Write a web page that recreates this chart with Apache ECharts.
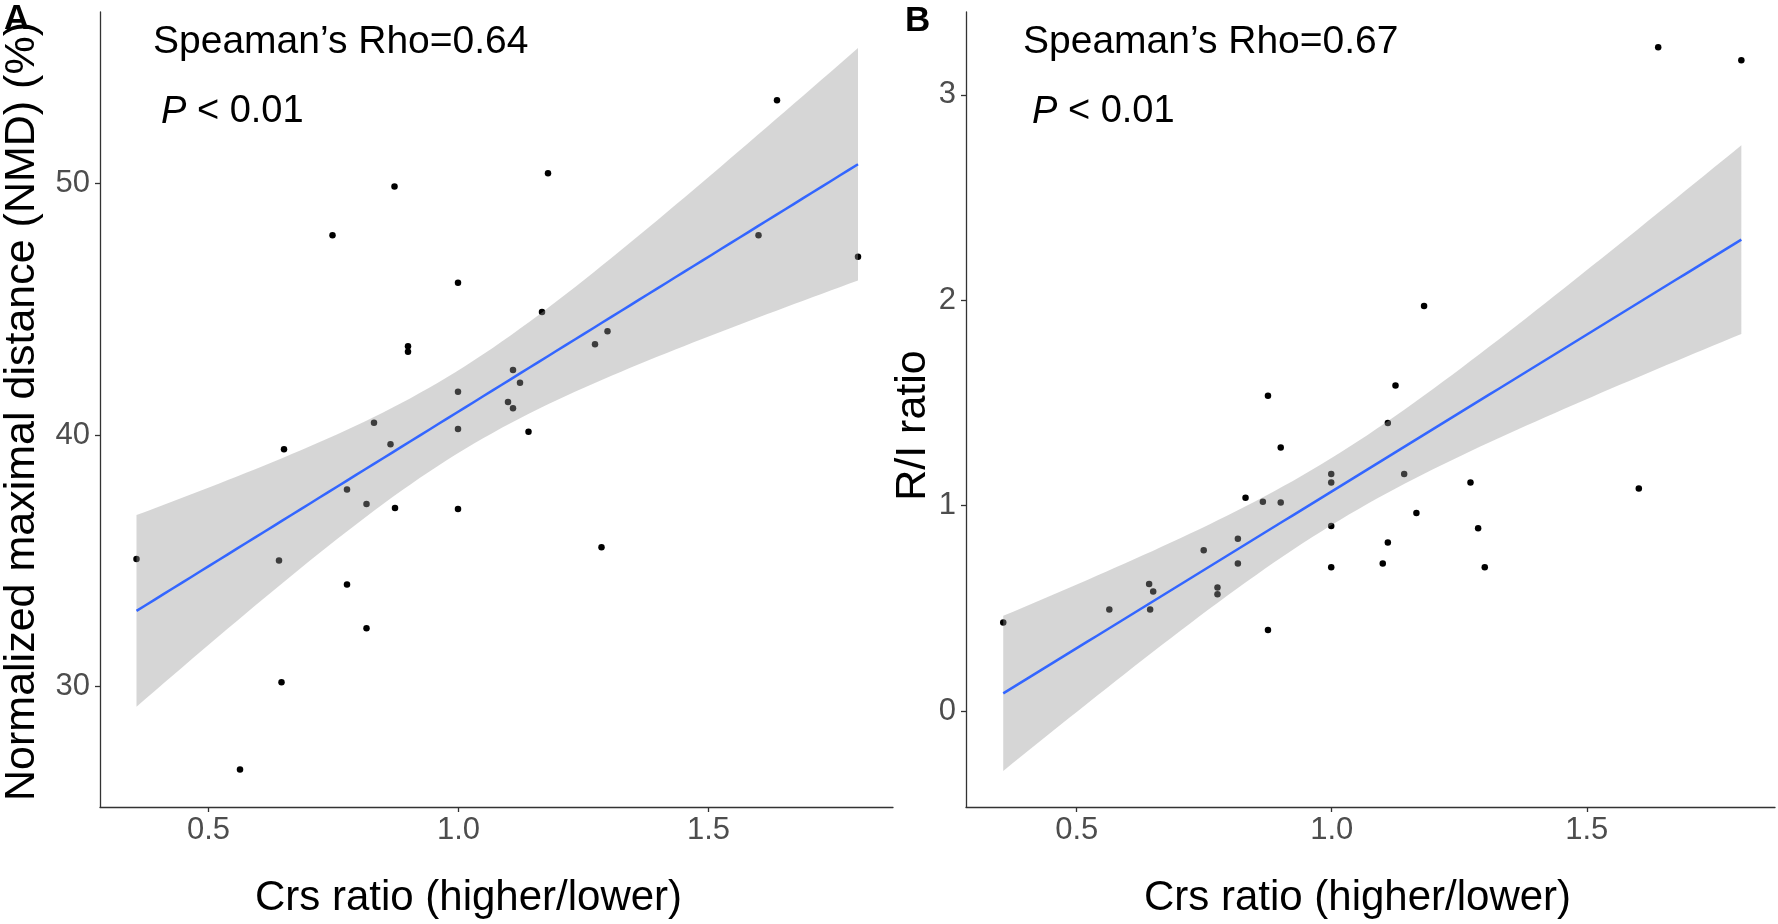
<!DOCTYPE html>
<html><head><meta charset="utf-8">
<script src="https://cdn.jsdelivr.net/npm/echarts@6/dist/echarts.min.js"></script>
<style>html,body{margin:0;padding:0;background:#fff}#c{width:1778px;height:924px}</style>
</head><body><div id="c"></div>
<script>
// ---- Data ----
const crsA = [1.637,1.179,0.872,0.748,1.600,1.799,0.999,1.167,1.298,1.273,0.899,0.899,1.109,1.123,0.999,1.099,1.109,0.831,0.999,1.140,0.864,0.651,0.356,0.777,0.816,0.873,0.999,1.286,0.641,0.777,0.816,0.646,0.563];
const nmdA = [53.32,50.41,49.89,47.95,47.95,47.09,46.06,44.89,44.13,43.61,43.53,43.31,42.59,42.08,41.72,41.31,41.06,40.49,40.24,40.13,39.63,39.43,35.07,37.83,37.26,37.10,37.06,35.53,35.01,34.05,32.31,30.16,26.69];
const crsB = [1.640,1.803,1.181,1.125,0.875,1.110,0.900,0.999,1.142,0.999,1.272,1.602,0.831,0.865,0.900,1.166,0.999,1.287,0.816,1.110,0.749,0.816,1.100,0.999,1.300,0.642,0.650,0.776,0.776,0.564,0.644,0.356,0.875];
const riB  = [3.231,3.168,1.972,1.585,1.535,1.402,1.283,1.154,1.154,1.113,1.113,1.083,1.039,1.019,1.015,0.964,0.901,0.890,0.839,0.820,0.783,0.718,0.718,0.700,0.700,0.619,0.582,0.601,0.569,0.494,0.494,0.431,0.395];
const xTicks = [0.5, 1.0, 1.5];
const yTicksA = [30, 40, 50];
const yTicksB = [0, 1, 2, 3];
const xTitle = 'Crs ratio (higher/lower)';
const yTitleA = 'Normalized maximal distance (NMD) (%)';
const yTitleB = 'R/I ratio';
const rhoA = 'Speaman’s Rho=0.64';
const rhoB = 'Speaman’s Rho=0.67';
const pText = '{i|P} < 0.01';
const panelLetters = ['A', 'B'];

const FONT = '"Liberation Sans", Arial, Helvetica, sans-serif';

// linear model fit + 95% confidence band (like geom_smooth(method="lm"))
function lmBand(xs, ys, n) {
  const N = xs.length;
  const mx = xs.reduce((a, b) => a + b, 0) / N;
  const my = ys.reduce((a, b) => a + b, 0) / N;
  let sxx = 0, sxy = 0;
  for (let i = 0; i < N; i++) { sxx += (xs[i] - mx) ** 2; sxy += (xs[i] - mx) * (ys[i] - my); }
  const b = sxy / sxx, a = my - b * mx;
  let sse = 0;
  for (let i = 0; i < N; i++) sse += (ys[i] - a - b * xs[i]) ** 2;
  const s = Math.sqrt(sse / (N - 2));
  const t = 2.0395; // qt(0.975, 31)
  const x0 = Math.min(...xs), x1 = Math.max(...xs);
  const line = [], up = [], lo = [];
  for (let k = 0; k < n; k++) {
    const x = x0 + (x1 - x0) * k / (n - 1);
    const yh = a + b * x;
    const se = s * Math.sqrt(1 / N + (x - mx) ** 2 / sxx);
    line.push([x, yh]); up.push([x, yh + t * se]); lo.push([x, yh - t * se]);
  }
  return { line, up, lo };
}

const fitA = lmBand(crsA, nmdA, 80);
const fitB = lmBand(crsB, riB, 80);

function xAxisFor(i, shiftLeft) {
  return {
    gridIndex: i, type: 'value', min: 0.283, max: 1.869,
    axisLine: { show: true, onZero: false, lineStyle: { color: '#333', width: 1.3 } },
    axisTick: { show: true, length: 5, customValues: xTicks, lineStyle: { color: '#333', width: 1.3 } },
    axisLabel: { customValues: xTicks, formatter: v => v.toFixed(1), fontSize: 31, color: '#4D4D4D', margin: 8, fontFamily: FONT },
    splitLine: { show: false },
    name: xTitle, nameLocation: 'middle', nameGap: 70,
    nameTextStyle: { fontSize: 42, color: '#000', fontFamily: FONT, padding: [0, 2 * shiftLeft, 0, 0] }
  };
}
function yAxisFor(i, min, max, ticks, name, gap, shiftDown) {
  return {
    gridIndex: i, type: 'value', min: min, max: max,
    axisLine: { show: true, onZero: false, lineStyle: { color: '#333', width: 1.3 } },
    axisTick: { show: true, length: 5, customValues: ticks, lineStyle: { color: '#333', width: 1.3 } },
    axisLabel: { customValues: ticks, formatter: v => String(v), fontSize: 31, color: '#4D4D4D', margin: 10, fontFamily: FONT },
    splitLine: { show: false },
    name: name, nameLocation: 'middle', nameGap: gap, nameRotate: 90,
    nameTextStyle: { fontSize: 43, color: '#000', fontFamily: FONT, padding: [0, 2 * shiftDown, 0, 0] }
  };
}
function seriesFor(i, xs, ys, fit) {
  return [
    { type: 'scatter', xAxisIndex: i, yAxisIndex: i, data: xs.map((x, k) => [x, ys[k]]),
      symbol: 'circle', symbolSize: 6.5, itemStyle: { color: '#000', opacity: 1 }, z: 2, silent: true },
    { type: 'custom', xAxisIndex: i, yAxisIndex: i, data: [fit.line[0]], z: 3, silent: true,
      renderItem: (params, api) => {
        const pts = fit.up.map(p => api.coord(p)).concat(fit.lo.slice().reverse().map(p => api.coord(p)));
        return { type: 'polygon', shape: { points: pts }, style: { fill: 'rgba(153,153,153,0.4)' } };
      } },
    { type: 'line', xAxisIndex: i, yAxisIndex: i, data: fit.line, showSymbol: false, symbol: 'none',
      lineStyle: { color: '#3366FF', width: 2.5 }, z: 4, silent: true }
  ];
}

const chart = echarts.init(document.getElementById('c'), null, { renderer: 'canvas' });
chart.setOption({
  animation: false,
  backgroundColor: '#fff',
  grid: [
    { left: 98, top: 12, width: 795, height: 796 },
    { left: 966, top: 12, width: 809, height: 796 }
  ],
  xAxis: [xAxisFor(0, 28), xAxisFor(1, 13)],
  yAxis: [
    yAxisFor(0, 25.2, 56.83, yTicksA, yTitleA, 56, 2),
    yAxisFor(1, -0.467, 3.403, yTicksB, yTitleB, 19, 16)
  ],
  series: [].concat(seriesFor(0, crsA, nmdA, fitA), seriesFor(1, crsB, riB, fitB)),
  graphic: [
    { type: 'text', left: 4, top: 2, z: 10, style: { text: panelLetters[0], font: 'bold 35px ' + FONT, fill: '#000' } },
    { type: 'text', left: 905, top: 4, z: 10, style: { text: panelLetters[1], font: 'bold 35px ' + FONT, fill: '#000' } },
    { type: 'text', left: 153, top: 23, style: { text: rhoA, font: '39px ' + FONT, fill: '#000' } },
    { type: 'text', left: 1023, top: 23, style: { text: rhoB, font: '39px ' + FONT, fill: '#000' } },
    { type: 'text', left: 161, top: 93, style: { text: pText, fontSize: 38, fontFamily: FONT, fill: '#000',
        rich: { i: { fontStyle: 'italic', fontSize: 38, fontFamily: FONT, fill: '#000' } } } },
    { type: 'text', left: 1032, top: 93, style: { text: pText, fontSize: 38, fontFamily: FONT, fill: '#000',
        rich: { i: { fontStyle: 'italic', fontSize: 38, fontFamily: FONT, fill: '#000' } } } }
  ]
});
</script>
</body></html>
